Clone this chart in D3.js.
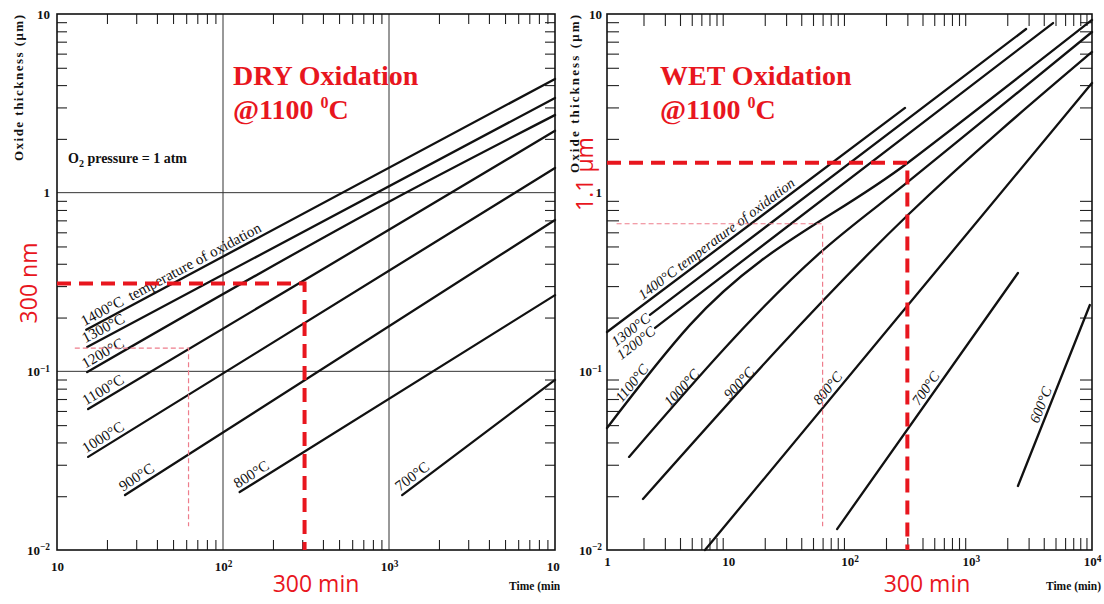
<!DOCTYPE html>
<html>
<head>
<meta charset="utf-8">
<script src="https://cdn.jsdelivr.net/npm/d3@7"></script>
<style>
body { margin: 0; background: #fff; }
svg { display: block; }
</style>
</head>
<body>
<script>
// values, each point is [time (min), oxide thickness (um)]
const dryTemps = ["1400°C", "1300°C", "1200°C", "1100°C", "1000°C", "900°C", "800°C", "700°C"];
const dryLines = [
    [[15, 0.171], [1e4, 4.33]],
    [[15.2, 0.137], [1e4, 3.39]],
    [[15.2, 0.099], [1000, 0.89], [1e4, 2.72]],
    [[15.4, 0.0615], [1e4, 2.22]],
    [[15.4, 0.0332], [1e4, 1.375]],
    [[25.7, 0.0203], [1e4, 0.703]],
    [[126, 0.0211], [1e4, 0.267]],
    [[1200, 0.0203], [1e4, 0.0895]]
];
const wetTemps = ["1400°C", "1300°C", "1200°C", "1100°C", "1000°C", "900°C", "800°C", "700°C", "600°C"];
const wetLines = [
    [[1, 0.166], [287, 2.98]],
    [[2.26, 0.207], [2860, 8.24]],
    [[2.49, 0.175], [4770, 8.9]],
    [[1, 0.0482], [4.84, 0.182], [303, 1.47], [1e4, 9.26]],
    [[1.52, 0.0332], [57, 0.46], [303, 1.148], [1e4, 7.93]],
    [[1.98, 0.0193], [303, 0.75], [1e4, 6.13]],
    [[6.43, 0.01], [1e4, 4.11]],
    [[79, 0.0131], [2450, 0.355]],
    [[2450, 0.0228], [9600, 0.235]]
];
const yTickVals = [0.01, 0.1, 1, 10];
const yTickText = ["10^-2", "10^-1", "1", "10"];
const dryXTickVals = [10, 100, 1000, 10000];
const dryXTickText = ["10", "10^2", "10^3", "10^4"];
const wetXTickVals = [1, 10, 100, 1000, 10000];
const wetXTickText = ["1", "10", "10^2", "10^3", "10^4"];
// red guides: [time from, time, thickness, thickness down to]
const dryGuideThick = [10, 310, 0.31, 0.01];
const dryGuideThin = [12.8, 62, 0.135, 0.0136];
const wetGuideThick = [1, 300, 1.47, 0.01];
const wetGuideThin = [1.2, 60, 0.67, 0.0136];

const serif = "'Liberation Serif', 'Times New Roman', serif";
const sans = "'Open Sans', 'Liberation Sans', sans-serif";
const red = "#e8161e";

const svg = d3.select("body").append("svg").attr("width", 1104).attr("height", 604);
svg.append("rect").attr("width", 1104).attr("height", 604).attr("fill", "#fff");

const defs = svg.append("defs");
defs.append("clipPath").attr("id", "leftclip").append("rect").attr("width", 560).attr("height", 604);

function minors(lo, hi) {
    const out = [];
    for (let d = lo; d < hi; d *= 10) for (let k = 2; k < 10; k++) out.push(d * k);
    return out;
}

// "10^-1" -> 10 with raised -1
function sup() {
    const s = d3.select(this).text().split("^");
    const t = d3.select(this).text(s[0]);
    if (s[1]) t.append("tspan").attr("dy", "-0.45em").attr("font-size", "0.72em").text(s[1].replace("-", "\u2212"));
}

// position + direction on a polyline at time t (log interpolation)
function along(pts, t, x, y) {
    let i = 0;
    while (i < pts.length - 2 && t > pts[i + 1][0]) i++;
    const a = pts[i], b = pts[i + 1];
    const f = (Math.log(t) - Math.log(a[0])) / (Math.log(b[0]) - Math.log(a[0]));
    const v = Math.exp(Math.log(a[1]) + f * (Math.log(b[1]) - Math.log(a[1])));
    const ang = Math.atan2(y(b[1]) - y(a[1]), x(b[0]) - x(a[0])) * 180 / Math.PI;
    return { px: x(t), py: y(v), ang: ang };
}

function panel(opt) {
    const g = svg.append("g");
    if (opt.clip) g.attr("clip-path", "url(#leftclip)");
    const x = d3.scaleLog().domain(opt.xDomain).range(opt.xRange);
    const y = d3.scaleLog().domain([0.01, 10]).range([550, 14]);
    const [x0, x1] = opt.xRange;
    const y0 = 550, y1 = 14;

    if (opt.grid) {
        g.selectAll("line.gx").data([100, 1000]).join("line")
            .attr("x1", d => x(d)).attr("x2", d => x(d)).attr("y1", y0).attr("y2", y1)
            .attr("stroke", "#333").attr("stroke-width", 1);
        g.selectAll("line.gy").data([0.1, 1]).join("line")
            .attr("y1", d => y(d)).attr("y2", d => y(d)).attr("x1", x0).attr("x2", x1)
            .attr("stroke", "#333").attr("stroke-width", 1);
    }

    const tick = (axis, tr, vals, size) => g.append("g").attr("transform", tr)
        .call(axis.tickValues(vals).tickSize(-size).tickFormat(""))
        .call(s => s.select(".domain").remove())
        .call(s => s.selectAll("line").attr("stroke", "#222").attr("stroke-width", 1.1));
    const xm = minors(opt.xDomain[0], opt.xDomain[1]);
    const ym = minors(0.01, 10);
    tick(d3.axisBottom(x), `translate(0,${y0})`, xm, opt.tick);
    tick(d3.axisTop(x), `translate(0,${y1})`, xm, opt.tick);
    tick(d3.axisLeft(y), `translate(${x0},0)`, ym, opt.tick);
    tick(d3.axisRight(y), `translate(${x1},0)`, ym, opt.tick);

    g.append("rect").attr("x", x0).attr("y", y1).attr("width", x1 - x0).attr("height", y0 - y1)
        .attr("fill", "none").attr("stroke", "#111").attr("stroke-width", 1.6);

    const labels = s => {
        s.select(".domain").remove();
        s.selectAll("text").attr("font-family", serif).attr("font-size", 13)
            .attr("font-weight", "bold").attr("fill", "#111").each(sup);
    };
    g.append("g").attr("transform", `translate(0,${y0})`)
        .call(d3.axisBottom(x).tickValues(opt.xTicks).tickSize(0).tickPadding(opt.xPad)
            .tickFormat((d, i) => opt.xText[i]))
        .call(labels);
    g.append("g").attr("transform", `translate(${x0},0)`)
        .call(d3.axisLeft(y).tickValues(yTickVals).tickSize(0).tickPadding(opt.yPad)
            .tickFormat((d, i) => yTickText[i]))
        .call(labels);

    const line = d3.line().x(d => x(d[0])).y(d => y(d[1])).curve(d3.curveMonotoneX);
    g.selectAll("path.ox").data(opt.lines).join("path").attr("class", "ox")
        .attr("d", d => line(d)).attr("fill", "none").attr("stroke", "#111")
        .attr("stroke-width", 2.3).attr("stroke-linecap", "round");

    // temperature labels
    opt.lines.forEach((pts, i) => {
        const lb = opt.labelAt[i];
        const p = along(pts, lb.t == null ? pts[0][0] : lb.t, x, y);
        const t = g.append("text")
            .attr("transform", `translate(${p.px},${p.py}) rotate(${p.ang})`)
            .attr("font-family", serif).attr("font-size", opt.labelSize)
            .attr("font-style", opt.italic ? "italic" : "normal").attr("fill", "#111")
            .text(lb.text || opt.temps[i]);
        if (lb.before) t.attr("x", -2).attr("dy", "0.35em").attr("text-anchor", "end");
        else t.attr("y", -4);
    });

    // red guides
    const guide = (m, thick) => {
        const pts = [[m[0], m[2]], [m[1], m[2]], [m[1], m[3]]];
        g.append("path").attr("d", d3.line().x(d => x(d[0])).y(d => y(d[1]))(pts))
            .attr("fill", "none")
            .attr("stroke", thick ? red : "#ee7d8c")
            .attr("stroke-width", thick ? 4 : 1.2)
            .attr("stroke-dasharray", thick ? "14,8" : "5,3");
    };
    guide(opt.thin, false);
    guide(opt.thick, true);

    // axis titles
    g.append("text").attr("transform", `translate(${opt.yTitleX},15) rotate(-90)`)
        .attr("text-anchor", "end").attr("font-family", serif).attr("font-weight", "bold")
        .attr("font-size", 13).attr("textLength", opt.yTitleLen).attr("lengthAdjust", "spacing")
        .attr("fill", "#111").text("Oxide thickness (\u03bcm)");
    g.append("text").attr("x", opt.timeX).attr("y", 590).attr("text-anchor", opt.timeAnchor)
        .attr("font-family", serif).attr("font-weight", "bold").attr("font-size", 11.5)
        .attr("fill", "#111").text("Time (min)");
    return g;
}

const left = panel({
    clip: true, grid: true,
    xDomain: [10, 1e4], xRange: [57, 555], tick: 10, xPad: 12, yPad: 7,
    xTicks: dryXTickVals, xText: dryXTickText,
    lines: dryLines, temps: dryTemps, labelSize: 15, italic: false,
    labelAt: [{ text: "1400°C\u00a0\u00a0temperature of oxidation" }, {}, {}, {}, {}, {}, {}, {}],
    thick: dryGuideThick, thin: dryGuideThin,
    yTitleX: 23, yTitleLen: 146, timeX: 509, timeAnchor: "start"
});
left.append("text").attr("x", 68).attr("y", 163).attr("font-family", serif).attr("font-weight", "bold")
    .attr("font-size", 14).attr("fill", "#111")
    .call(t => {
        t.append("tspan").text("O");
        t.append("tspan").attr("dy", 4).attr("font-size", 10).text("2");
        t.append("tspan").attr("dy", -4).text(" pressure = 1 atm");
    });

const right = panel({
    clip: false, grid: false,
    xDomain: [1, 1e4], xRange: [607, 1092], tick: 12, xPad: 7, yPad: 5,
    xTicks: wetXTickVals, xText: wetXTickText,
    lines: wetLines, temps: wetTemps, labelSize: 14.5, italic: true,
    labelAt: [{ t: 2.06, text: "1400°C temperature of oxidation" }, { before: true }, { before: true },
        { t: 1.41 }, { t: 3.5 }, { t: 10.9 }, { t: 60 }, { t: 398 }, { t: 3870 }],
    thick: wetGuideThick, thin: wetGuideThin,
    yTitleX: 579, yTitleLen: 158, timeX: 1101, timeAnchor: "end"
});

// red annotations
const title = (xp, word) => {
    svg.append("text").attr("x", xp).attr("y", 85).attr("font-family", serif).attr("font-weight", "bold")
        .attr("font-size", 28).attr("fill", red).text(word + " Oxidation");
    svg.append("text").attr("x", xp).attr("y", 119).attr("font-family", serif).attr("font-weight", "bold")
        .attr("font-size", 28).attr("fill", red)
        .call(t => {
            t.append("tspan").text("@1100 ");
            t.append("tspan").attr("dy", -11).attr("font-size", 16).text("0");
            t.append("tspan").attr("dy", 11).text("C");
        });
};
title(233, "DRY");
title(660, "WET");

const note = (tr, txt, anchor) => svg.append("text").attr("transform", tr)
    .attr("text-anchor", anchor).attr("font-family", sans).attr("font-size", 23)
    .attr("fill", red).text(txt);
note("translate(37,283) rotate(-90)", "300 nm", "middle");
note("translate(593,174) rotate(-90)", "1.1 \u00b5m", "middle");
note("translate(316,592)", "300 min", "middle");
note("translate(927,592)", "300 min", "middle");
</script>
</body>
</html>
